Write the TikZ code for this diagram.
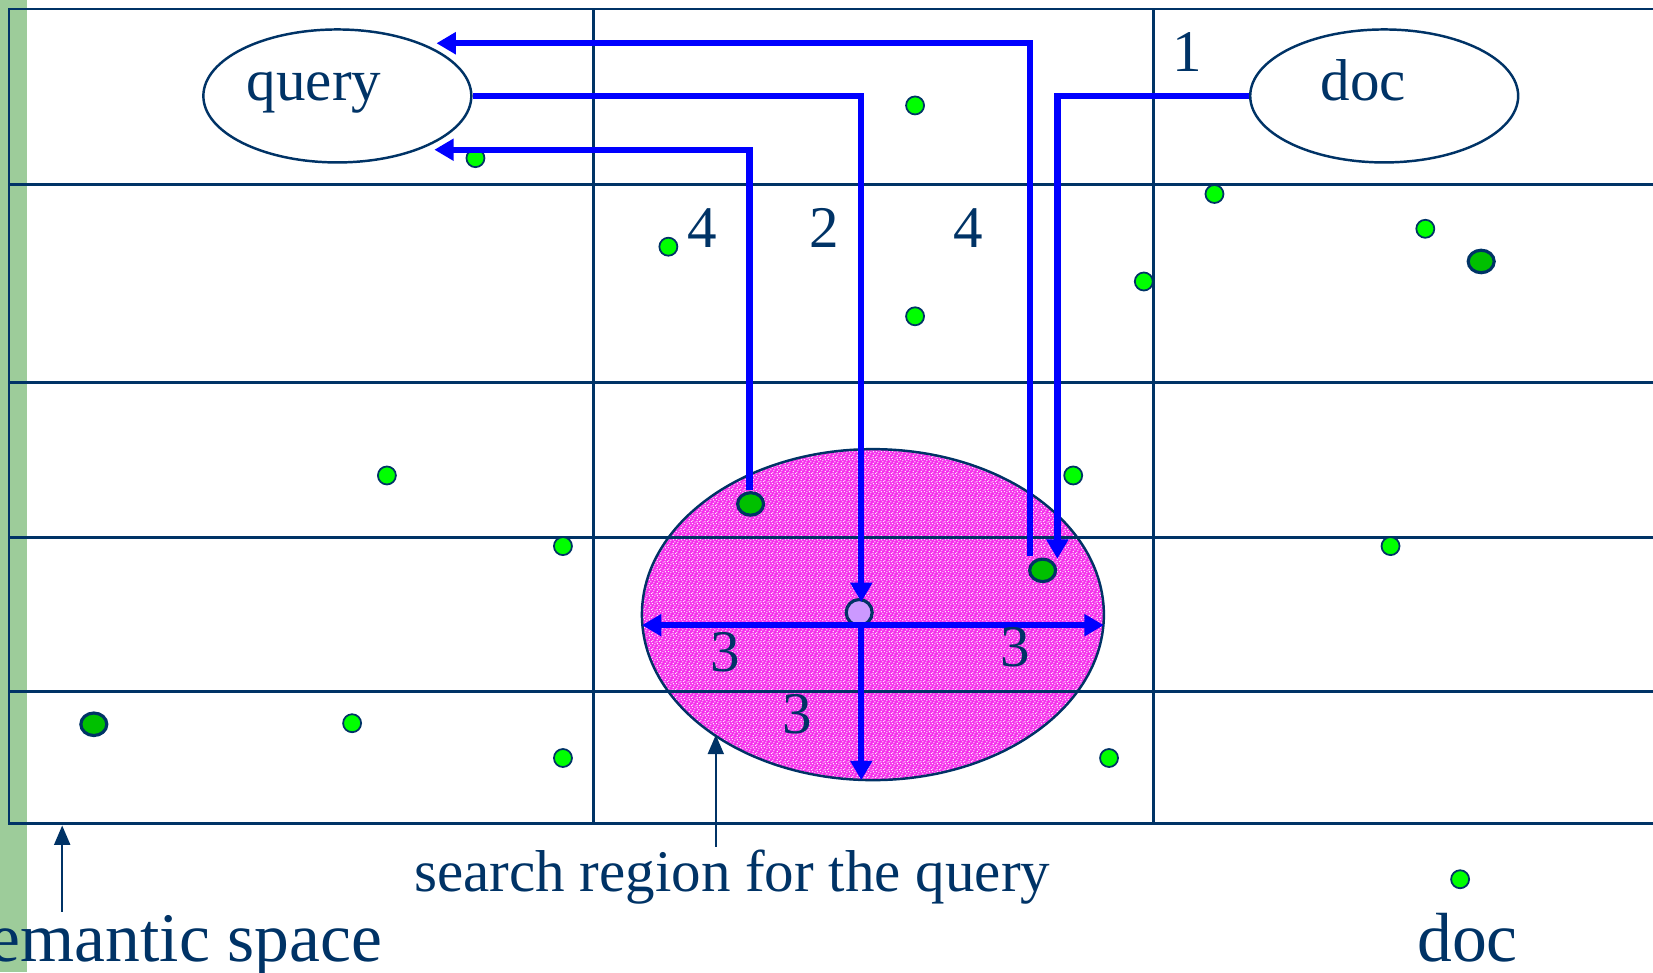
\documentclass[tikz,border=0pt]{standalone}
\usepackage{fontspec}
\setmainfont{Liberation Serif}
\usetikzlibrary{arrows.meta,shapes.geometric,patterns}
\definecolor{navy}{RGB}{0,51,102}
\definecolor{stripgreen}{RGB}{157,204,154}
\definecolor{regionfill}{RGB}{245,45,235}
\definecolor{speck}{RGB}{255,235,252}
\definecolor{litegreen}{RGB}{0,255,0}
\definecolor{darkgreen}{RGB}{0,192,0}
\definecolor{lilac}{RGB}{204,153,255}

% fine irregular speckle for the search region
\pgfdeclarepatternformonly{speckle}{\pgfpointorigin}{\pgfqpoint{2.4pt}{2.4pt}}{\pgfqpoint{2.4pt}{2.4pt}}{%
  \pgfpathrectangle{\pgfqpoint{0.1pt}{0.2pt}}{\pgfqpoint{0.35pt}{0.35pt}}%
  \pgfpathrectangle{\pgfqpoint{1.3pt}{0.6pt}}{\pgfqpoint{0.35pt}{0.35pt}}%
  \pgfpathrectangle{\pgfqpoint{0.7pt}{1.4pt}}{\pgfqpoint{0.35pt}{0.35pt}}%
  \pgfpathrectangle{\pgfqpoint{1.9pt}{1.8pt}}{\pgfqpoint{0.35pt}{0.35pt}}%
  \pgfpathrectangle{\pgfqpoint{2.0pt}{0.1pt}}{\pgfqpoint{0.35pt}{0.35pt}}%
  \pgfpathrectangle{\pgfqpoint{0.3pt}{2.0pt}}{\pgfqpoint{0.35pt}{0.35pt}}%
  \pgfpathrectangle{\pgfqpoint{1.2pt}{2.1pt}}{\pgfqpoint{0.35pt}{0.35pt}}%
  \pgfpathrectangle{\pgfqpoint{1.6pt}{1.2pt}}{\pgfqpoint{0.35pt}{0.35pt}}%
  \pgfpathrectangle{\pgfqpoint{0.2pt}{0.9pt}}{\pgfqpoint{0.35pt}{0.35pt}}%
  \pgfpathrectangle{\pgfqpoint{0.9pt}{0.3pt}}{\pgfqpoint{0.35pt}{0.35pt}}%
  \pgfusepath{fill}}

\begin{document}
\begin{tikzpicture}[x=0.010542cm, y=-0.010542cm,
  gridline/.style={navy, line width=0.7pt},
  flow/.style={blue, line width=1.8pt, -{Triangle[length=5.5pt,width=6pt]}},
  pointer/.style={navy, line width=0.7pt, -{Triangle[length=5.5pt,width=4.5pt]}},
  blob/.style={ellipse, draw=navy, line width=0.7pt, fill=white, inner sep=0pt,
               minimum width=2.68cm, minimum height=1.33cm},
  dot/.style={circle, draw=navy, line width=0.5pt, fill=litegreen, inner sep=0pt,
              minimum size=0.18cm},
  bigdot/.style={ellipse, draw=navy, line width=0.9pt, fill=darkgreen, inner sep=0pt,
                 minimum width=0.26cm, minimum height=0.225cm},
  label/.style={navy, anchor=base, inner sep=0pt, font=\fontsize{16.8}{20}\selectfont},
  biglabel/.style={navy, anchor=base, inner sep=0pt, font=\fontsize{19.8}{24}\selectfont},
  regionshape/.style={ellipse, inner sep=0pt, minimum width=4.62cm, minimum height=3.31cm}]

\useasboundingbox (0,0) rectangle (1568,922);

% slide edge strip
\fill[stripgreen] (0,0) rectangle (25.5,922);

% search region (fill first, so the grid shows through)
\node[regionshape, fill=regionfill] (regionfill) at (828,583) {};
\node[regionshape, pattern=speckle, pattern color=speck] (regiongrain) at (828,583) {};

% grid of the semantic space
\draw[gridline] (1580,8.5) -- (8.5,8.5) -- (8.5,781) -- (1580,781);
\foreach \yy in {175,363,510,656} \draw[gridline] (8.5,\yy) -- (1580,\yy);
\foreach \xx in {563,1094} \draw[gridline] (\xx,8.5) -- (\xx,781);

% outline of the search region
\node[regionshape, draw=navy, line width=0.7pt] (region) at (828,583) {};

% query and document
\node[blob] (query) at (320,91) {};
\node[blob] (doc) at (1313,91) {};
\node[label] (querytext) at (298,95) {query};
\node[label] (doctext) at (1293,95) {doc};

% documents scattered in the space
\foreach \px/\py [count=\i] in {868/100, 451/150, 634/234, 868/300, 1152/184, 1085/267,
    1352/217, 367/451, 534/518, 1018/451, 1319/518, 334/686, 534/719, 1052/719, 1385/834}
  \node[dot] (d\i) at (\px,\py) {};
\node[bigdot] (far) at (1405,248) {};
\node[bigdot] (hitA) at (712,478) {};
\node[bigdot] (hitB) at (989,541) {};
\node[bigdot] (left) at (89,687) {};
\node[circle, draw=navy, line width=0.9pt, fill=lilac, inner sep=0pt, minimum size=0.26cm]
  (qpoint) at (815,581) {};

% routing points of the steps
\coordinate (t1) at (1003,530);
\coordinate (t2) at (817,571);
\coordinate (s3) at (977,527);
\coordinate (t3) at (414,41);
\coordinate (s4) at (711,465);
\coordinate (t4) at (412,142);
\coordinate (r0) at (817,593);
\coordinate (rw) at (609,593);
\coordinate (re) at (1047,593);
\coordinate (rs) at (817,740);

% step 1: document is placed in the space
\draw[flow] (doc.west) -| (t1);
% step 2: query is placed in the space
\draw[flow] (query.east) -| (t2);
% step 3: the search region around the query
\draw[flow] (r0) -- (rw);
\draw[flow] (r0) -- (re);
\draw[flow] (r0) -- (rs);
% step 4: documents inside the region are returned
\draw[flow] (s3) |- (t3);
\draw[flow] (s4) |- (t4);

% step numbers
\node[label] (n1) at (1126,68) {1};
\node[label] (n4a) at (666,235) {4};
\node[label] (n2) at (782,235) {2};
\node[label] (n4b) at (918,235) {4};
\node[label] (n3a) at (688,637) {3};
\node[label] (n3b) at (963,632) {3};
\node[label] (n3c) at (756,696) {3};

% captions
\node[label] (regiontext) at (694.5,846) {search region for the query};
\node[biglabel, anchor=base east] (spacetext) at (363,912) {semantic space};
\node[biglabel] (doclabel) at (1392,912) {doc};
\coordinate (regionmark) at (679,697);
\coordinate (spacemark) at (59,783);
\draw[pointer] (679,803) -- (regionmark);
\draw[pointer] (59,865) -- (spacemark);
\end{tikzpicture}
\end{document}
